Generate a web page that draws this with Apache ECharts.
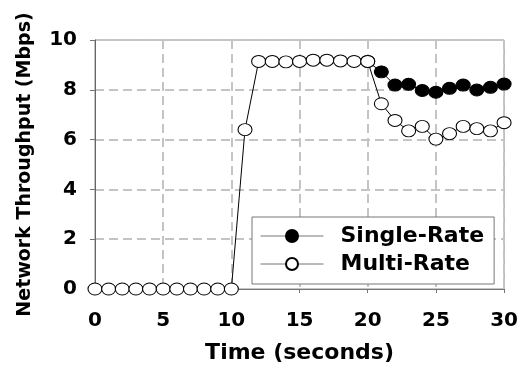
<!DOCTYPE html>
<html>
<head>
<meta charset="utf-8">
<script src="https://cdn.jsdelivr.net/npm/echarts@6/dist/echarts.min.js"></script>
<style>
html,body{margin:0;padding:0;background:#fff;}
#chart{width:521px;height:369px;}
</style>
</head>
<body>
<div id="chart"></div>
<script>
const times = [0,1,2,3,4,5,6,7,8,9,10,11,12,13,14,15,16,17,18,19,20,21,22,23,24,25,26,27,28,29,30];
const multiRate = [0,0,0,0,0,0,0,0,0,0,0,6.4,9.14,9.14,9.12,9.14,9.19,9.19,9.16,9.14,9.14,7.44,6.77,6.35,6.53,6.02,6.24,6.53,6.44,6.35,6.68];
const singleRate = [null,null,null,null,null,null,null,null,null,null,null,null,null,null,null,null,null,null,null,null,9.14,8.72,8.19,8.22,7.97,7.90,8.06,8.19,7.99,8.10,8.23];
const xTicks = [0,5,10,15,20,25,30];
const yTicks = [0,2,4,6,8,10];
const seriesNames = ['Single-Rate','Multi-Rate'];

const FONT = 'DejaVu Sans';
const chart = echarts.init(document.getElementById('chart'));
const pair = (arr) => times.map((t,i) => [t, arr[i]]);

chart.setOption({
  animation: false,
  backgroundColor: '#fff',
  grid: {left: 95, right: 16, top: 40, bottom: 78, show: true, borderColor: '#8a8a8a', borderWidth: 1},
  xAxis: {
    type: 'value', min: xTicks[0], max: xTicks[xTicks.length-1], interval: 5,
    name: 'Time (seconds)', nameLocation: 'middle', nameGap: 53,
    nameTextStyle: {fontFamily: FONT, fontWeight: 'bold', fontSize: 22, color: '#000'},
    axisLine: {lineStyle: {color: '#777', width: 1}},
    axisTick: {show: true, length: 4, lineStyle: {color: '#777'}},
    axisLabel: {fontFamily: FONT, fontWeight: 'bold', fontSize: 20, color: '#000', margin: 22},
    splitLine: {show: true, lineStyle: {color: '#c4c4c4', width: 2, type: [9,5]}}
  },
  yAxis: {
    type: 'value', min: yTicks[0], max: yTicks[yTicks.length-1], interval: 2,
    name: 'Network Throughput (Mbps)', nameLocation: 'middle', nameGap: 60,
    nameTextStyle: {fontFamily: FONT, fontWeight: 'bold', fontSize: 19, color: '#000'},
    axisLine: {show: true, lineStyle: {color: '#666', width: 1}},
    axisTick: {show: true, length: 5, lineStyle: {color: '#777'}},
    axisLabel: {fontFamily: FONT, fontWeight: 'bold', fontSize: 20, color: '#000', margin: 18},
    splitLine: {show: true, lineStyle: {color: '#c4c4c4', width: 2, type: [9,5]}}
  },
  legend: {
    orient: 'vertical', left: 252, top: 217,
    width: 247,
    backgroundColor: '#fff', borderColor: '#777', borderWidth: 1,
    padding: [8, 10, 9, 8], itemGap: 6,
    itemWidth: 63, itemHeight: 15,
    data: seriesNames,
    lineStyle: {color: '#777', width: 1},
    textStyle: {fontFamily: FONT, fontWeight: 'bold', fontSize: 22, color: '#000', padding: [0,0,0,12]}
  },
  series: [
    {
      name: seriesNames[0], type: 'line', data: pair(singleRate),
      symbol: 'circle', symbolSize: [14, 12], z: 2,
      lineStyle: {color: '#000', width: 1},
      itemStyle: {color: '#000', borderColor: '#000', borderWidth: 1}
    },
    {
      name: seriesNames[1], type: 'line', data: pair(multiRate),
      symbol: 'circle', symbolSize: [14, 12], z: 3,
      lineStyle: {color: '#000', width: 1},
      itemStyle: {color: '#fff', borderColor: '#000', borderWidth: 1}
    }
  ]
});
</script>
</body>
</html>
